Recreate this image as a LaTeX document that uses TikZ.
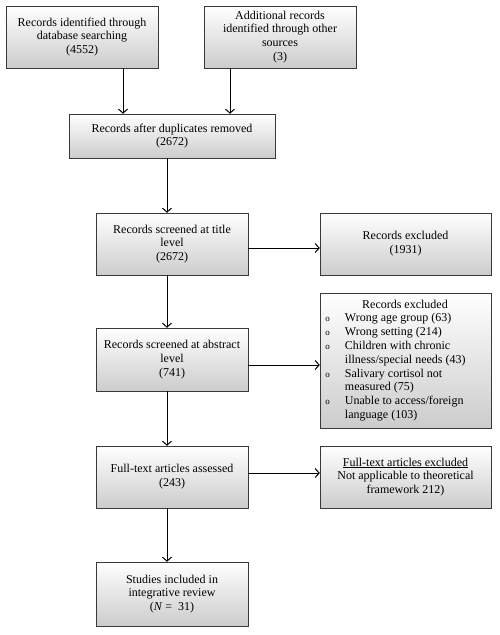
\documentclass[tikz,border=0pt]{standalone}
\usepackage{fontspec}
\setmainfont{Liberation Serif}
\usetikzlibrary{arrows.meta}

\begin{document}
\begin{tikzpicture}[x=1pt,y=-1pt,
  box/.style={draw=gray!45!black, top color=white, bottom color=gray!40,
    align=center, inner sep=2pt, font=\fontsize{12}{13.8}\selectfont},
  arr/.style={-{Straight Barb[length=4pt,width=9pt]}, line width=1pt}]
\useasboundingbox (0,0) rectangle (499,635);
% Identification
\node[box, minimum width=152, minimum height=62] (db) at (82,37)
  {Records identified through\\database searching\\(4552)};
\node[box, minimum width=152, minimum height=62] (other) at (280,37)
  {Additional records\\identified through other\\sources\\(3)};
\node[box, minimum width=206, minimum height=44] (dup) at (172,136)
  {Records after duplicates removed\\(2672)};
% Screening
\node[box, minimum width=152, minimum height=62] (title) at (172,244)
  {Records screened at title\\level\\(2672)};
\node[box, minimum width=171, minimum height=62] (excl1) at (405.5,244)
  {Records excluded\\(1931)};
\node[box, minimum width=152, minimum height=63] (abs) at (172,359.5)
  {Records screened at abstract\\level\\(741)};
\node[box, minimum width=171, minimum height=135] (excl2) at (405.5,360.5)
  {\begin{tabular}{@{}l@{\hspace{15pt}}l@{}}
   \multicolumn{2}{c}{\hspace{19pt}Records excluded}\\
   {\small o} & Wrong age group (63)\\
   {\small o} & Wrong setting (214)\\
   {\small o} & Children with chronic\\
              & illness/special needs (43)\\
   {\small o} & Salivary cortisol not\\
              & measured (75)\\
   {\small o} & Unable to access/foreign\\
              & language (103)
   \end{tabular}\hspace{20pt}};
% Eligibility
\node[box, minimum width=152, minimum height=62] (full) at (172,477)
  {Full-text articles assessed\\(243)};
\node[box, minimum width=171, minimum height=62] (excl3) at (405.5,477)
  {\underline{Full-text articles excluded}\\Not applicable to theoretical\\framework 212)};
% Included
\node[box, minimum width=152, minimum height=64] (incl) at (172,594)
  {Studies included in\\integrative review\\(\textit{N} =\ \ 31)};
% Arrows
\coordinate (c1) at (123,0);
\coordinate (c2) at (230,0);
\coordinate (c3) at (167,0);
\draw[arr] (db.south -| c1) -- (dup.north -| c1);
\draw[arr] (other.south -| c2) -- (dup.north -| c2);
\draw[arr] (dup.south -| c3) -- (title.north -| c3);
\draw[arr] (title.south -| c3) -- (abs.north -| c3);
\draw[arr] (abs.south -| c3) -- (full.north -| c3);
\draw[arr] (full.south -| c3) -- (incl.north -| c3);
\draw[arr] ([yshift=-4pt]title.east) coordinate (h1) -- (h1 -| excl1.west);
\draw[arr] ([yshift=-5.5pt]abs.east) coordinate (h2) -- (h2 -| excl2.west);
\draw[arr] ([yshift=4pt]full.east) coordinate (h3) -- (h3 -| excl3.west);
\end{tikzpicture}
\end{document}
